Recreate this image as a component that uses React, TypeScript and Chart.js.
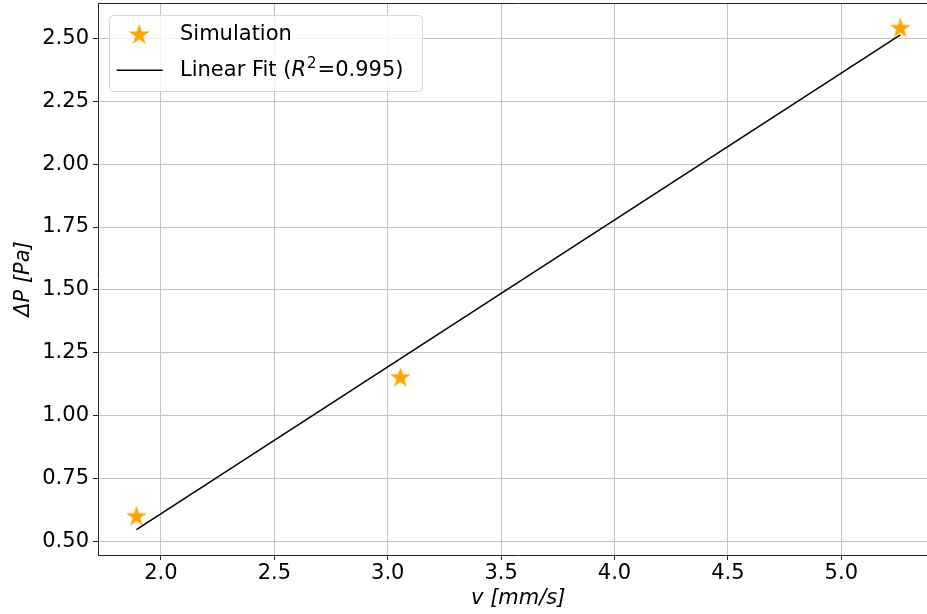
import React, { useEffect, useRef } from "react";
import { Chart, registerables } from "chart.js";

Chart.register(...registerables);

// ---- data ----
const SIM_V = [1.892, 3.056, 5.26];
const SIM_DP = [0.599, 1.151, 2.539];
const FIT_V = [1.892, 5.26];
const FIT_DP = [0.548, 2.513];
const X_TICKS = [2.0, 2.5, 3.0, 3.5, 4.0, 4.5, 5.0];
const Y_TICKS = [0.5, 0.75, 1.0, 1.25, 1.5, 1.75, 2.0, 2.25, 2.5];
const SIM_LABEL = "Simulation";
const FIT_LABEL_PRE = "Linear Fit (";
const FIT_LABEL_R = "R";
const FIT_LABEL_SUP = "2";
const FIT_LABEL_POST = "=0.995)";
const X_TITLE = "v [mm/s]";
const Y_TITLE = "ΔP [Pa]";

const FONT = "'DejaVu Sans', sans-serif";
const ORANGE = "#FFA500";

function makeStar(): HTMLCanvasElement {
  const c = document.createElement("canvas");
  c.width = 24;
  c.height = 24;
  const g = c.getContext("2d")!;
  const cx = 12, cy = 12, R = 11, r = R * 0.382;
  g.beginPath();
  for (let i = 0; i < 10; i++) {
    const rad = i % 2 === 0 ? R : r;
    const a = -Math.PI / 2 + (i * Math.PI) / 5;
    const px = cx + rad * Math.cos(a);
    const py = cy + rad * Math.sin(a);
    if (i === 0) g.moveTo(px, py);
    else g.lineTo(px, py);
  }
  g.closePath();
  g.fillStyle = ORANGE;
  g.fill();
  return c;
}

function zeroPad(s: any) {
  s.paddingTop = 0;
  s.paddingBottom = 0;
  s.paddingLeft = 0;
  s.paddingRight = 0;
}

export default function App() {
  const ref = useRef<HTMLCanvasElement>(null);

  useEffect(() => {
    const star = makeStar();

    const framePlugin = {
      id: "frame",
      afterDraw(chart: any) {
        const { ctx, chartArea } = chart;
        ctx.save();
        ctx.strokeStyle = "#222";
        ctx.lineWidth = 1;
        ctx.beginPath();
        ctx.moveTo(chartArea.left, Math.round(chartArea.top) + 0.5);
        ctx.lineTo(chartArea.right, Math.round(chartArea.top) + 0.5);
        ctx.stroke();
        ctx.restore();
      },
    };

    const legendPlugin = {
      id: "mplLegend",
      afterDraw(chart: any) {
        const { ctx, chartArea } = chart;
        const L = chartArea.left;
        const T = chartArea.top;
        ctx.save();
        const bx = L + 11.5, by = T + 12.5, bw = 313, bh = 76, r = 4;
        ctx.beginPath();
        ctx.moveTo(bx + r, by);
        ctx.lineTo(bx + bw - r, by);
        ctx.arcTo(bx + bw, by, bx + bw, by + r, r);
        ctx.lineTo(bx + bw, by + bh - r);
        ctx.arcTo(bx + bw, by + bh, bx + bw - r, by + bh, r);
        ctx.lineTo(bx + r, by + bh);
        ctx.arcTo(bx, by + bh, bx, by + bh - r, r);
        ctx.lineTo(bx, by + r);
        ctx.arcTo(bx, by, bx + r, by, r);
        ctx.closePath();
        ctx.fillStyle = "rgba(255,255,255,0.8)";
        ctx.fill();
        ctx.strokeStyle = "#d6d6d6";
        ctx.lineWidth = 1;
        ctx.stroke();

        // star entry
        ctx.drawImage(star, L + 41.3 - 12, T + 32 - 12);
        ctx.fillStyle = "#000";
        ctx.textBaseline = "alphabetic";
        ctx.textAlign = "left";
        ctx.font = `21px ${FONT}`;
        const tx = L + 82;
        ctx.fillText(SIM_LABEL, tx, T + 37);

        // line entry
        ctx.strokeStyle = "#000";
        ctx.lineWidth = 1.5;
        ctx.beginPath();
        ctx.moveTo(L + 18.7, T + 67.3);
        ctx.lineTo(L + 64.7, T + 67.3);
        ctx.stroke();

        let x = tx;
        const base = T + 73;
        ctx.font = `21px ${FONT}`;
        ctx.fillText(FIT_LABEL_PRE, x, base);
        x += ctx.measureText(FIT_LABEL_PRE).width;
        ctx.font = `italic 21px ${FONT}`;
        ctx.fillText(FIT_LABEL_R, x, base);
        x += ctx.measureText(FIT_LABEL_R).width + 1;
        ctx.font = `15px ${FONT}`;
        ctx.fillText(FIT_LABEL_SUP, x, base - 8);
        x += ctx.measureText(FIT_LABEL_SUP).width + 1;
        ctx.font = `21px ${FONT}`;
        ctx.fillText(FIT_LABEL_POST, x, base);
        ctx.restore();
      },
    };

    const chart = new Chart(ref.current!, {
      type: "scatter",
      data: {
        datasets: [
          {
            label: SIM_LABEL,
            data: SIM_V.map((v, i) => ({ x: v, y: SIM_DP[i] })),
            pointStyle: star as any,
            pointRadius: 10,
            showLine: false,
            order: 1,
          },
          {
            label: FIT_LABEL_PRE + FIT_LABEL_R + "²" + FIT_LABEL_POST,
            data: FIT_V.map((v, i) => ({ x: v, y: FIT_DP[i] })),
            showLine: true,
            borderColor: "#000",
            borderWidth: 1.5,
            pointRadius: 0,
            order: 0,
          } as any,
        ],
      },
      options: {
        responsive: false,
        animation: false,
        layout: {
          autoPadding: false,
          padding: { top: 3, right: 6.5, bottom: 0, left: 0 },
        },
        plugins: {
          legend: { display: false },
          tooltip: { enabled: false },
        },
        scales: {
          x: {
            type: "linear",
            min: 1.7225,
            max: 5.4285,
            afterBuildTicks: (s: any) => {
              s.ticks = X_TICKS.map((v) => ({ value: v }));
            },
            afterFit: (s: any) => {
              s.height = 59;
              zeroPad(s);
            },
            ticks: {
              font: { family: FONT, size: 21 },
              color: "#000",
              padding: 1,
              maxRotation: 0,
              autoSkip: false,
              callback: (v: any) => Number(v).toFixed(1),
            },
            grid: {
              color: "#c4c4c4",
              lineWidth: 1,
              tickLength: 5,
              tickColor: "#222",
            },
            border: { color: "#222", width: 1 },
            title: {
              display: true,
              text: X_TITLE,
              font: { family: FONT, size: 21, style: "italic" },
              color: "#000",
              padding: { top: 0, bottom: 2.5 },
            },
          },
          y: {
            type: "linear",
            min: 0.447,
            max: 2.64,
            afterBuildTicks: (s: any) => {
              s.ticks = Y_TICKS.map((v) => ({ value: v }));
            },
            afterFit: (s: any) => {
              s.width = 98;
              zeroPad(s);
            },
            ticks: {
              font: { family: FONT, size: 21 },
              color: "#000",
              padding: 4,
              autoSkip: false,
              callback: (v: any) => Number(v).toFixed(2),
            },
            grid: {
              color: "#c4c4c4",
              lineWidth: 1,
              tickLength: 5,
              tickColor: "#222",
            },
            border: { color: "#222", width: 1 },
            title: {
              display: true,
              text: Y_TITLE,
              font: { family: FONT, size: 21, style: "italic" },
              color: "#000",
              padding: { top: 11, bottom: 0 },
            },
          },
        },
      },
      plugins: [framePlugin, legendPlugin],
    });
    return () => chart.destroy();
  }, []);

  return (
    <div
      style={{
        position: "fixed",
        left: 0,
        top: 0,
        width: 927,
        height: 614,
        overflow: "hidden",
        background: "#fff",
      }}
    >
      <canvas ref={ref} width={945} height={614} style={{ display: "block" }} />
    </div>
  );
}
